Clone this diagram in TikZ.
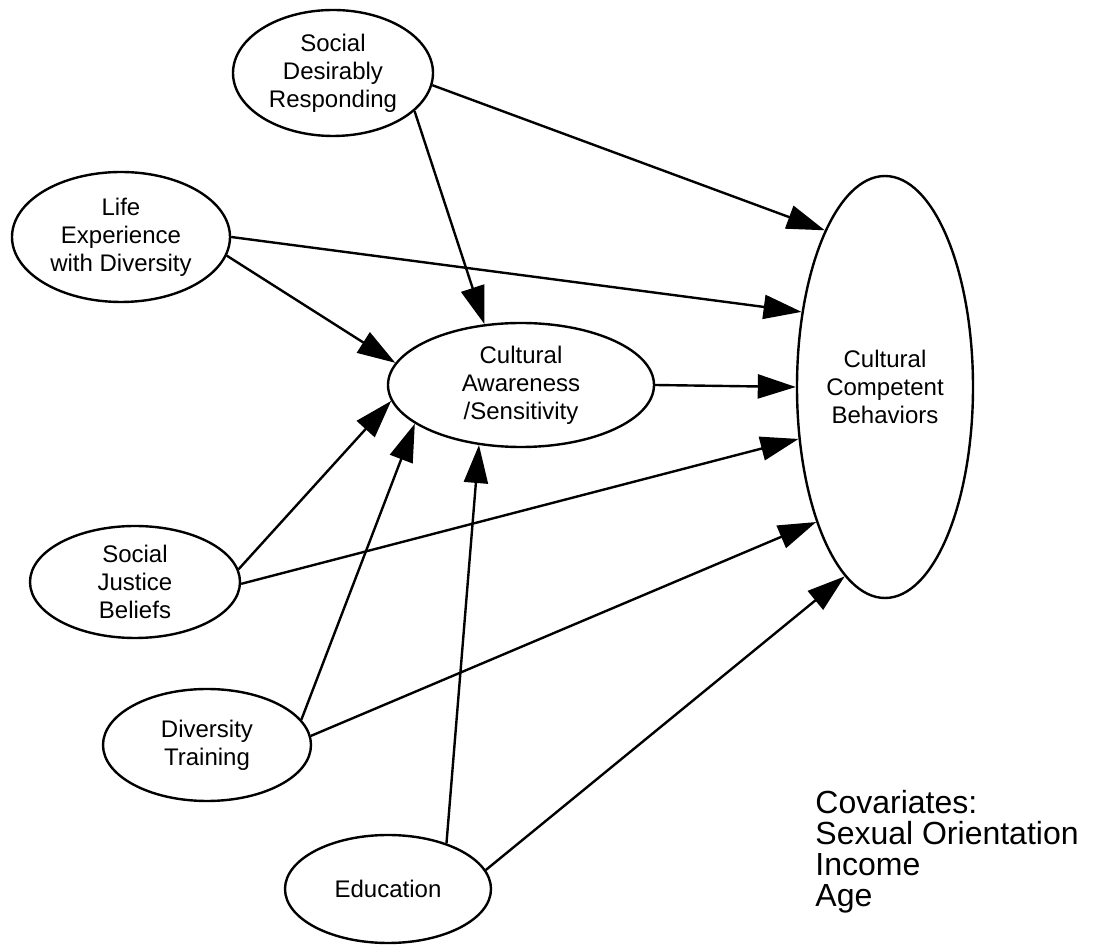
\documentclass[tikz,border=0pt]{standalone}
\usepackage{fontspec}
\setmainfont{Liberation Sans}
\usetikzlibrary{shapes.geometric, arrows.meta}

\begin{document}
\begin{tikzpicture}[
    x=0.5pt,y=-0.5pt,
    latent/.style={draw, ellipse, line width=1.2pt, inner sep=0pt, align=center, fill=white, font=\fontsize{12}{14}\selectfont},
    effect/.style={line width=1.2pt, -{Triangle[length=19pt, width=12pt]}},
    covar/.style={align=left, inner sep=0pt, font=\fontsize{16}{15.5}\selectfont}
]
    \useasboundingbox (0,0) rectangle (1093,945);

    % --- Constructs ---
    \node[latent, minimum width=100pt, minimum height=63pt] (sdr) at (333, 73) {Social\\Desirably\\Responding};
    \node[latent, minimum width=109pt, minimum height=65pt] (led) at (121, 237) {Life\\Experience\\with Diversity};
    \node[latent, minimum width=133pt, minimum height=62pt] (cas) at (521, 385) {Cultural\\Awareness\\/Sensitivity};
    \node[latent, minimum width=88pt, minimum height=211pt] (ccb) at (885, 387) {Cultural\\Competent\\Behaviors};
    \node[latent, minimum width=105pt, minimum height=56pt] (sjb) at (135, 582) {Social\\Justice\\Beliefs};
    \node[latent, minimum width=104pt, minimum height=56pt] (dt) at (207, 745) {Diversity\\Training};
    \node[latent, minimum width=103pt, minimum height=54pt] (edu) at (388, 889) {Education};

    % --- Covariates ---
    \node[covar, anchor=west] (cov) at (815, 852) {Covariates:\\Sexual Orientation\\Income\\Age};

    % --- Paths to Cultural Awareness ---
    \draw[effect] (sdr.-25) -- (cas.121);
    \draw[effect] (led.-10) -- (cas.170);
    \draw[effect] (sjb.7) -- (cas.187);
    \draw[effect] (dt.15) -- (cas.200);
    \draw[effect] (edu.38) -- (cas.235);

    % --- Paths to Cultural Competent Behaviors ---
    \draw[effect] (sdr.-7) -- (ccb.111);
    \draw[effect] (led.0) -- (ccb.138);
    \draw[effect] (cas.0) -- (ccb.180);
    \draw[effect] (sjb.-1) -- (ccb.211);
    \draw[effect] (dt.5) -- (ccb.243);
    \draw[effect] (edu.11) -- (ccb.258);

\end{tikzpicture}
\end{document}
